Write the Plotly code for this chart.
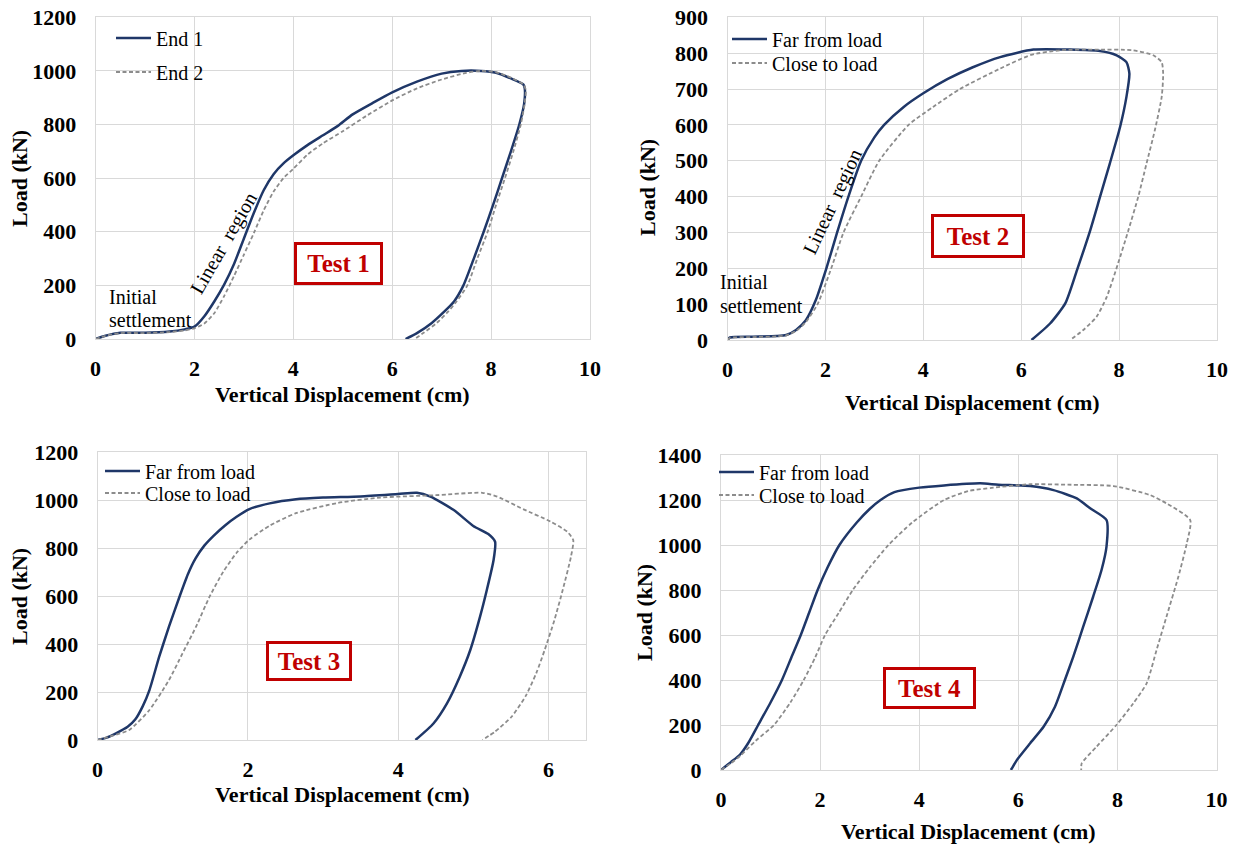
import plotly.graph_objects as go

W, H = 1239, 846

# ---------------- data ----------------
# Test 1
t1_end1_x = [0, 0.2, 0.5, 1.0, 1.5, 1.8, 2.0, 2.2, 2.4, 2.6, 2.8, 3.0, 3.2, 3.4, 3.6, 3.8, 4.0, 4.3, 4.6, 4.9, 5.2, 5.6, 6.0, 6.5, 7.0, 7.4, 7.8, 8.1, 8.4, 8.65, 8.68, 8.67, 8.57, 8.4, 8.22, 8.04, 7.85, 7.65, 7.44, 7.25, 7.04, 6.8, 6.5, 6.27]
t1_end1_y = [0, 12, 23, 23, 28, 36, 46, 85, 140, 203, 280, 375, 470, 555, 615, 655, 685, 725, 760, 795, 838, 880, 920, 960, 990, 1000, 1000, 993, 972, 950, 935, 880, 800, 700, 600, 500, 400, 300, 200, 140, 100, 60, 22, 0]
t1_end2_x = [0, 0.2, 0.5, 1.0, 1.5, 1.8, 2.0, 2.2, 2.4, 2.6, 2.8, 3.0, 3.2, 3.4, 3.6, 3.8, 4.0, 4.3, 4.6, 5.0, 5.5, 6.0, 6.5, 7.0, 7.5, 7.8, 8.1, 8.4, 8.65, 8.7, 8.68, 8.6, 8.45, 8.28, 8.1, 7.93, 7.72, 7.52, 7.3, 7.12, 6.9, 6.65, 6.45]
t1_end2_y = [0, 12, 22, 22, 26, 32, 40, 58, 96, 160, 235, 315, 395, 480, 550, 600, 635, 690, 730, 775, 835, 890, 935, 968, 993, 1000, 995, 975, 950, 930, 880, 800, 700, 600, 500, 400, 300, 200, 140, 100, 60, 25, 0]

# Test 2
t2_far_x = [0, 0.05, 0.5, 1.0, 1.2, 1.4, 1.6, 1.8, 2.02, 2.24, 2.47, 2.73, 3.0, 3.2, 3.6, 4.0, 4.5, 5.0, 5.57, 6.25, 7.0, 7.61, 7.95, 8.15, 8.21, 8.15, 8.02, 7.81, 7.61, 7.41, 7.14, 6.90, 6.59, 6.21]
t2_far_y = [0, 7, 9, 11, 14, 28, 55, 110, 200, 300, 400, 500, 565, 600, 650, 688, 728, 760, 789, 810, 810, 806, 794, 775, 743, 678, 594, 492, 399, 306, 195, 102, 46, 0]
t2_close_x = [0, 0.05, 0.5, 1.0, 1.2, 1.4, 1.6, 1.84, 2.12, 2.37, 2.73, 3.1, 3.7, 4.2, 4.75, 5.57, 6.2, 6.79, 7.5, 8.29, 8.70, 8.87, 8.90, 8.87, 8.73, 8.56, 8.39, 8.19, 7.98, 7.75, 7.54, 7.27, 7.0]
t2_close_y = [0, 6, 8, 10, 13, 25, 50, 100, 200, 300, 400, 500, 600, 650, 700, 757, 795, 808, 810, 808, 794, 775, 743, 678, 585, 492, 399, 306, 214, 121, 65, 28, 0]

# Test 3
t3_far_x = [0, 0.12, 0.245, 0.4, 0.5, 0.6, 0.69, 0.82, 0.95, 1.09, 1.2, 1.3, 1.42, 1.55, 1.7, 1.85, 2.02, 2.29, 2.64, 3.0, 3.5, 4.0, 4.25, 4.43, 4.74, 5.0, 5.2, 5.29, 5.27, 5.18, 5.09, 4.96, 4.82, 4.65, 4.47, 4.23]
t3_far_y = [0, 10, 28, 55, 85, 140, 208, 347, 472, 597, 690, 755, 810, 853, 895, 930, 962, 986, 1003, 1010, 1015, 1025, 1030, 1014, 958, 892, 858, 826, 750, 625, 514, 375, 264, 153, 69, 0]
t3_close_x = [0, 0.2, 0.42, 0.69, 0.95, 1.13, 1.31, 1.49, 1.67, 1.85, 2.02, 2.29, 2.64, 3.2, 3.76, 4.5, 5.12, 5.32, 5.67, 6.03, 6.25, 6.33, 6.30, 6.19, 6.08, 5.95, 5.84, 5.70, 5.51, 5.29, 5.12]
t3_close_y = [0, 18, 42, 125, 250, 361, 472, 597, 700, 780, 835, 893, 945, 988, 1010, 1020, 1030, 1014, 961, 910, 868, 833, 764, 625, 500, 375, 280, 185, 97, 35, 0]

# Test 4
t4_far_x = [0, 0.2, 0.39, 0.55, 0.75, 1.0, 1.23, 1.42, 1.61, 1.78, 1.95, 2.15, 2.39, 2.74, 3.0, 3.22, 3.5, 4.0, 4.5, 5.23, 5.6, 6.24, 6.71, 7.18, 7.45, 7.78, 7.78, 7.68, 7.51, 7.31, 7.11, 6.94, 6.74, 6.51, 6.24, 5.97, 5.87, 5.85]
t4_far_y = [0, 35, 70, 120, 200, 300, 400, 500, 600, 700, 800, 900, 1000, 1100, 1160, 1200, 1235, 1255, 1265, 1274, 1268, 1262, 1244, 1207, 1163, 1111, 993, 889, 770, 637, 504, 400, 281, 192, 119, 44, 7, 0]
t4_close_x = [0, 0.2, 0.4, 0.7, 1.07, 1.4, 1.67, 1.9, 2.1, 2.38, 2.66, 3.0, 3.38, 3.86, 4.5, 5.0, 5.5, 6.24, 7.0, 7.92, 8.66, 8.99, 9.47, 9.40, 9.23, 8.99, 8.79, 8.59, 8.32, 7.98, 7.58, 7.28, 7.27]
t4_close_y = [0, 30, 65, 130, 200, 300, 400, 500, 600, 700, 800, 900, 1000, 1100, 1200, 1240, 1255, 1270, 1268, 1262, 1222, 1185, 1111, 1007, 859, 681, 533, 385, 296, 200, 104, 30, 0]

names_t1 = ["End 1", "End 2"]
names_other = ["Far from load", "Close to load"]
test_labels = ["Test 1", "Test 2", "Test 3", "Test 4"]
x_ranges = [[0, 10], [0, 10], [0, 6.5], [0, 10]]
y_ranges = [[0, 1200], [0, 900], [0, 1200], [0, 1400]]
y_dticks = [200, 100, 200, 200]
x_title = "Vertical Displacement (cm)"
y_title = "Load (kN)"

# ---------------- styling / layout ----------------
SERIF = "Liberation Serif, Times New Roman, serif"
NAVY = "#1F3768"
GRAY = "#8C8C8C"
RED = "#C00000"
GRID = "#D9D9D9"


def px(x):
    return x / W


def py(y):
    return 1 - y / H


# plot-area pixel boxes: (left, right, top, bottom)
boxes = [
    (95.6, 590.0, 17.3, 339.0),
    (727.5, 1217.0, 17.3, 340.0),
    (97.6, 586.0, 452.0, 740.0),
    (721.0, 1216.5, 455.0, 770.0),
]

fig = go.Figure()

series = [
    (t1_end1_x, t1_end1_y, t1_end2_x, t1_end2_y, names_t1),
    (t2_far_x, t2_far_y, t2_close_x, t2_close_y, names_other),
    (t3_far_x, t3_far_y, t3_close_x, t3_close_y, names_other),
    (t4_far_x, t4_far_y, t4_close_x, t4_close_y, names_other),
]

# legend row positions (line start x, row y) in pixels
legend_pos = [
    [(117, 38), (117, 72)],
    [(733, 39), (733, 63)],
    [(106, 471), (106, 493)],
    [(720, 472), (720, 495)],
]

legend_layouts = {}
for i, (sx, sy, dx, dy, nm) in enumerate(series):
    xa = "x" if i == 0 else f"x{i+1}"
    ya = "y" if i == 0 else f"y{i+1}"
    lg1 = "legend" if i == 0 else f"legend{2*i+1}"
    lg2 = f"legend{2*i+2}"
    fig.add_trace(go.Scatter(x=sx, y=sy, mode="lines", name=nm[0],
                             line=dict(color=NAVY, width=2.5, shape="spline", smoothing=0.6),
                             xaxis=xa, yaxis=ya, legend=lg1))
    fig.add_trace(go.Scatter(x=dx, y=dy, mode="lines", name=nm[1],
                             line=dict(color=GRAY, width=1.8, dash="4px,2.5px",
                                       shape="spline", smoothing=0.6),
                             xaxis=xa, yaxis=ya, legend=lg2))
    for lg, (lx, ly) in zip([lg1, lg2], legend_pos[i]):
        legend_layouts[lg] = dict(
            x=px(lx - 6), y=py(ly), xanchor="left", yanchor="middle",
            bgcolor="rgba(0,0,0,0)", borderwidth=0,
            font=dict(family=SERIF, size=20, color="#000000"),
            itemwidth=35, tracegroupgap=0,
        )

axis_common = dict(
    showgrid=True, gridcolor=GRID, gridwidth=1,
    showline=True, linecolor=GRID, linewidth=1, mirror=True,
    zeroline=False, ticks="outside", tickcolor="rgba(0,0,0,0)",
    tickfont=dict(family=SERIF, size=22, color="#000000", weight="bold"),
    fixedrange=True, automargin=False,
)

layout_axes = {}
for i, (l, r, t, b) in enumerate(boxes):
    xk = "xaxis" if i == 0 else f"xaxis{i+1}"
    yk = "yaxis" if i == 0 else f"yaxis{i+1}"
    ya = "y" if i == 0 else f"y{i+1}"
    xa = "x" if i == 0 else f"x{i+1}"
    layout_axes[xk] = dict(axis_common, domain=[px(l), px(r)], range=x_ranges[i],
                           dtick=2, tick0=0, anchor=ya, ticklen=10)
    layout_axes[yk] = dict(axis_common, domain=[py(b), py(t)], range=y_ranges[i],
                           dtick=y_dticks[i], tick0=0, anchor=xa, ticklen=14)

annotations = []
# axis titles
xt_pos = [(342, 395), (972, 403), (342, 794), (969, 831)]
yt_pos = [(19, 179), (647, 188), (19, 597), (644, 613)]
for (cx, cy) in xt_pos:
    annotations.append(dict(x=px(cx), y=py(cy), xref="paper", yref="paper",
                            text=x_title, showarrow=False, xanchor="center", yanchor="middle",
                            font=dict(family=SERIF, size=22, color="#000000", weight="bold")))
for (cx, cy) in yt_pos:
    annotations.append(dict(x=px(cx), y=py(cy), xref="paper", yref="paper",
                            text=y_title, showarrow=False, xanchor="center", yanchor="middle",
                            textangle=-90,
                            font=dict(family=SERIF, size=22, color="#000000", weight="bold")))

# Test boxes: center x, center y, width, height
test_boxes = [(338.5, 263.5, 89, 43), (978, 236, 94, 44), (309, 661, 86, 40), (929.5, 688, 93, 42)]
for lab, (cx, cy, bw, bh) in zip(test_labels, test_boxes):
    annotations.append(dict(x=px(cx), y=py(cy), xref="paper", yref="paper",
                            text=lab, showarrow=False, xanchor="center", yanchor="middle",
                            width=bw - 10, height=bh - 10, borderpad=2,
                            bordercolor=RED, borderwidth=3, bgcolor="#FFFFFF",
                            font=dict(family=SERIF, size=25, color=RED, weight="bold")))

# text notes
notes = [
    ("Initial", 107, 297), ("settlement", 107, 320),
    ("Initial", 718, 282), ("settlement", 718, 306),
]
for txt, lx, ly in notes:
    annotations.append(dict(x=px(lx), y=py(ly), xref="paper", yref="paper",
                            text=txt, showarrow=False, xanchor="left", yanchor="middle",
                            font=dict(family=SERIF, size=20, color="#000000")))
for (cx, cy, ang) in [(224, 244, -60), (832, 202, -65)]:
    annotations.append(dict(x=px(cx), y=py(cy), xref="paper", yref="paper",
                            text="Linear  region", showarrow=False, xanchor="center", yanchor="middle",
                            textangle=ang,
                            font=dict(family=SERIF, size=20, color="#000000")))

fig.update_layout(
    width=W, height=H, autosize=False,
    margin=dict(l=0, r=0, t=0, b=0, pad=0, autoexpand=False),
    paper_bgcolor="#FFFFFF", plot_bgcolor="#FFFFFF",
    showlegend=True,
    annotations=annotations,
    **layout_axes,
    **legend_layouts,
)

fig.write_html("out.html")
